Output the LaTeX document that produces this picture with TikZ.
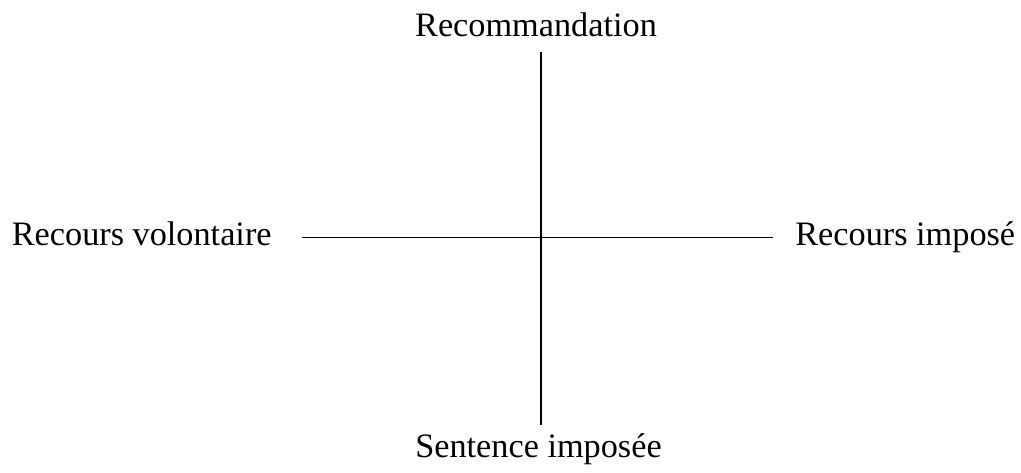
\documentclass[tikz,border=0pt]{standalone}
\usepackage{fontspec}
\setmainfont{Liberation Serif}
\usepackage{xcolor}
\usetikzlibrary{positioning}
\tikzset{
  axislbl/.style={font=\fontsize{19.5}{23}\selectfont, inner sep=0pt},
  axisline/.style={draw=black, line width=1.1pt},
}

\begin{document}
\begin{tikzpicture}
  \useasboundingbox (-10.82,-4.69) rectangle (9.60,4.75);
  %% line ends
  \coordinate (ntop) at (0,3.71);
  \coordinate (nbot) at (0,-3.75);
  \coordinate (wend) at (-4.78,0);
  \coordinate (eend) at (4.64,0);
  %% labels
  \node[axislbl,anchor=base] (reco) at (-0.10,4.01) {Recommandation};
  \node[axislbl,anchor=base] (sent) at (-0.05,-4.39) {Sentence imposée};
  \node[axislbl,anchor=base east] (volo) at (-5.38,-0.15) {Recours volontaire};
  \node[axislbl,anchor=base west] (impo) at (5.08,-0.15) {Recours imposé};
  %% axes
  \draw[axisline] (ntop) -- (nbot);
  \draw[axisline] (wend) -- (eend);
\end{tikzpicture}
\end{document}
